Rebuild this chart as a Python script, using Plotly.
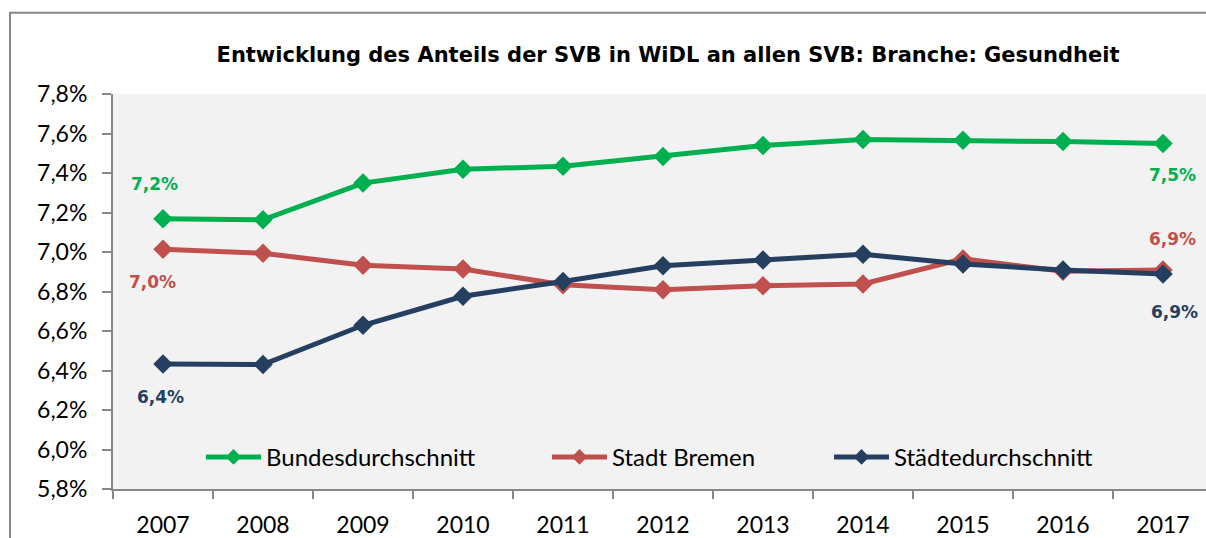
import plotly.graph_objects as go

years = ["2007", "2008", "2009", "2010", "2011", "2012", "2013", "2014", "2015", "2016", "2017"]
bund = [7.168, 7.163, 7.349, 7.419, 7.434, 7.484, 7.539, 7.569, 7.566, 7.559, 7.549]
bremen = [7.014, 6.994, 6.933, 6.914, 6.834, 6.809, 6.829, 6.838, 6.965, 6.903, 6.909]
staedte = [6.433, 6.430, 6.629, 6.776, 6.851, 6.930, 6.960, 6.989, 6.939, 6.909, 6.889]

names = ["Bundesdurchschnitt", "Stadt Bremen", "Städtedurchschnitt"]
colors = ["#00B050", "#C0504D", "#243F60"]
series = [bund, bremen, staedte]

W, H = 1206, 538
L, T, B = 113, 94, 45
PW = W - L
PH = H - T - B


def px_x(p):  # page pixel -> paper x
    return (p - L) / PW


def px_y(p):  # page pixel -> paper y
    return (H - B - p) / PH


fig = go.Figure()
legend_names = ["legend2", "legend3", "legend4"]
for vals, name, col, lg in zip(series, names, colors, legend_names):
    fig.add_trace(go.Scatter(
        x=years, y=vals, name=name, mode="lines+markers",
        line=dict(color=col, width=5),
        marker=dict(symbol="diamond", size=15, color=col),
        legend=lg,
    ))


def fmt(v):
    return f"{v:.1f}".replace(".", ",") + "%"


# endpoint labels: (series index, point index, xshift, yshift)
label_specs = [
    (0, 0, -9, 35), (1, 0, -11, -33), (2, 0, -3, -33),
    (0, 10, 9, -31), (1, 10, 9, 31), (2, 10, 11, -38),
]
annotations = []
for si, pi, xs, ys in label_specs:
    annotations.append(dict(
        x=pi, y=series[si][pi], xref="x", yref="y",
        text="<b>" + fmt(series[si][pi]) + "</b>", showarrow=False,
        xshift=xs, yshift=ys,
        font=dict(family="DejaVu Sans", size=17, color=colors[si]),
    ))

frame = "#868686"
shapes = [
    dict(type="line", xref="paper", yref="paper",
         x0=px_x(10), x1=px_x(10), y0=px_y(12), y1=px_y(560),
         line=dict(color=frame, width=2)),
    dict(type="line", xref="paper", yref="paper",
         x0=px_x(9), x1=px_x(1230), y0=px_y(12), y1=px_y(12),
         line=dict(color=frame, width=2)),
]

leg_common = dict(
    orientation="h", xanchor="left", yanchor="middle",
    bgcolor="rgba(0,0,0,0)", font=dict(family="Lato", size=24, color="#000000"),
    itemwidth=55, itemsizing="constant",
)
fig.update_layout(
    width=W, height=H,
    margin=dict(l=L, r=0, t=T, b=B, pad=0),
    paper_bgcolor="#FFFFFF", plot_bgcolor="#F2F2F2",
    separators=",.",
    showlegend=True,
    title=dict(
        text="<b>Entwicklung des Anteils der SVB in WiDL an allen SVB: Branche: Gesundheit</b>",
        x=668 / W, xref="container", xanchor="center",
        y=1 - 55 / H, yref="container", yanchor="middle",
        font=dict(family="DejaVu Sans", size=21, color="#000000"),
    ),
    legend2=dict(x=px_x(201), y=px_y(461), **leg_common),
    legend3=dict(x=px_x(547), y=px_y(461), **leg_common),
    legend4=dict(x=px_x(829), y=px_y(461), **leg_common),
    annotations=annotations,
    shapes=shapes,
    xaxis=dict(
        type="category", range=[-0.5, 10.43], tickson="boundaries",
        showgrid=False, zeroline=False,
        showline=True, linecolor=frame, linewidth=2,
        ticks="outside", ticklen=8, tickwidth=2, tickcolor=frame,
        tickfont=dict(family="Lato", size=23, color="#000000"),
        ticklabelstandoff=14,
    ),
    yaxis=dict(
        range=[5.8, 7.8], dtick=0.2, tick0=5.8,
        tickformat=".1f", ticksuffix="%",
        showgrid=False, zeroline=False,
        showline=True, linecolor=frame, linewidth=2,
        ticks="outside", ticklen=9, tickwidth=2, tickcolor=frame,
        tickfont=dict(family="Lato", size=23, color="#000000"),
        ticklabelstandoff=10,
    ),
)

fig.write_html(
    "out.html",
    config={"displayModeBar": False},
    post_script=(
        "document.documentElement.style.overflow='hidden';"
        "document.body.style.margin='0';document.body.style.overflow='hidden';"
    ),
)
